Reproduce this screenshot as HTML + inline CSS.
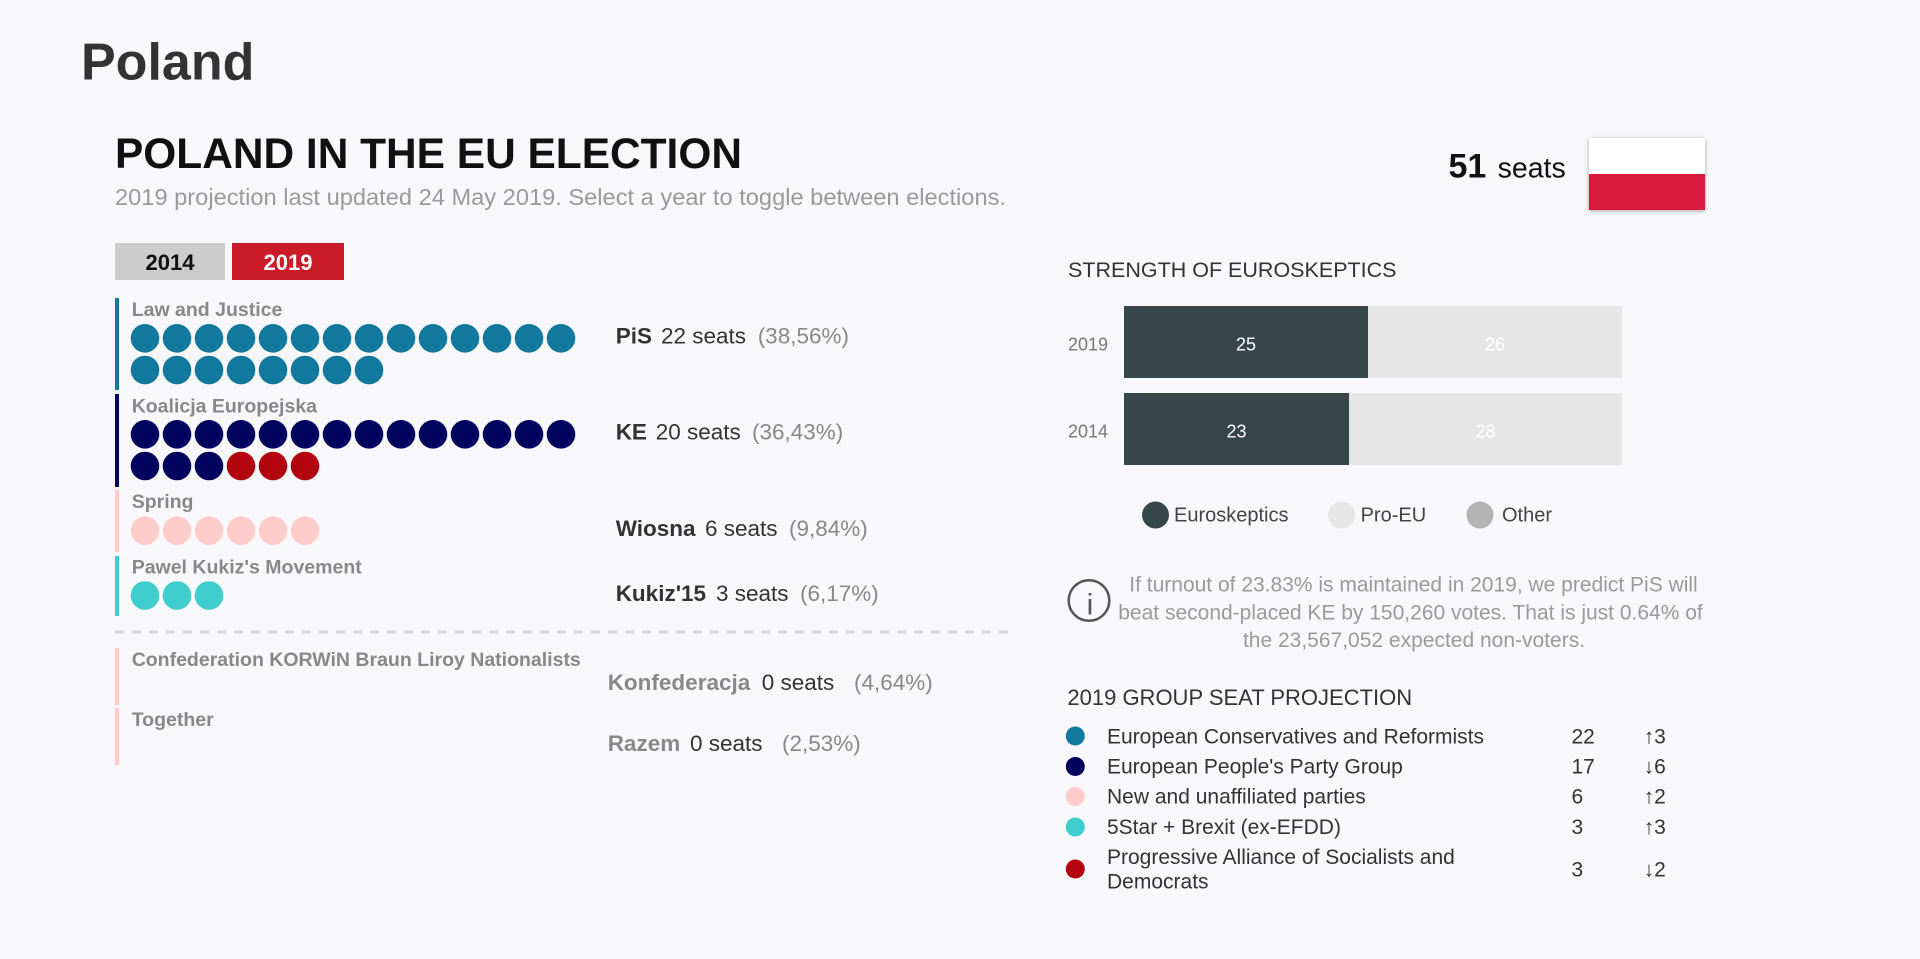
<!DOCTYPE html>
<html>
<head>
<meta charset="utf-8">
<style>
html,body{margin:0;padding:0;background:#f8f8fa;}
svg{display:block;font-family:"Liberation Sans",Arial,sans-serif;}
</style>
</head>
<body>
<svg width="1920" height="959" viewBox="0 0 1920 959" xmlns="http://www.w3.org/2000/svg">
<defs>
<filter id="sh" x="-20%" y="-20%" width="140%" height="150%">
<feDropShadow dx="0" dy="1" stdDeviation="2" flood-color="#000" flood-opacity="0.35"/>
</filter>
</defs>
<rect x="0" y="0" width="1920" height="959" fill="#f8f8fa"/>

<!-- Headings -->
<text x="81" y="79.5" font-size="52" font-weight="bold" fill="#333">Poland</text>
<text x="115" y="168" font-size="42.5" font-weight="bold" fill="#111" textLength="627" lengthAdjust="spacingAndGlyphs">POLAND IN THE EU ELECTION</text>
<text x="115" y="205" font-size="23" fill="#9a9a9a" textLength="891" lengthAdjust="spacingAndGlyphs">2019 projection last updated 24 May 2019. Select a year to toggle between elections.</text>

<!-- Buttons -->
<rect x="115" y="243" width="110" height="37" fill="#cccccc"/>
<text x="170" y="270" font-size="22" font-weight="bold" fill="#111" text-anchor="middle">2014</text>
<rect x="232" y="243" width="112" height="37" fill="#cb1a28"/>
<text x="288" y="270" font-size="22" font-weight="bold" fill="#fff" text-anchor="middle">2019</text>

<!-- Party blocks -->
<g font-size="19.5" font-weight="bold" fill="#888">
<rect x="115" y="298" width="4" height="92" fill="#13789e"/>
<text x="131.7" y="316">Law and Justice</text>
<rect x="115" y="394" width="4" height="93" fill="#02035c"/>
<text x="131.7" y="412.7">Koalicja Europejska</text>
<rect x="115" y="490" width="4" height="62" fill="#ffcccc"/>
<text x="131.7" y="508">Spring</text>
<rect x="115" y="556" width="4" height="60" fill="#3fcdcd"/>
<text x="131.7" y="573.3">Pawel Kukiz's Movement</text>
<rect x="115" y="648" width="4" height="57" fill="#ffcccc"/>
<text x="131.7" y="666">Confederation KORWiN Braun Liroy Nationalists</text>
<rect x="115" y="708" width="4" height="57" fill="#ffcccc"/>
<text x="131.7" y="726">Together</text>
</g>

<!-- Seat circles -->
<g fill="#13789e">
<circle cx="145" cy="338.3" r="14.3"/><circle cx="177" cy="338.3" r="14.3"/><circle cx="209" cy="338.3" r="14.3"/><circle cx="241" cy="338.3" r="14.3"/><circle cx="273" cy="338.3" r="14.3"/><circle cx="305" cy="338.3" r="14.3"/><circle cx="337" cy="338.3" r="14.3"/><circle cx="369" cy="338.3" r="14.3"/><circle cx="401" cy="338.3" r="14.3"/><circle cx="433" cy="338.3" r="14.3"/><circle cx="465" cy="338.3" r="14.3"/><circle cx="497" cy="338.3" r="14.3"/><circle cx="529" cy="338.3" r="14.3"/><circle cx="561" cy="338.3" r="14.3"/>
<circle cx="145" cy="370" r="14.3"/><circle cx="177" cy="370" r="14.3"/><circle cx="209" cy="370" r="14.3"/><circle cx="241" cy="370" r="14.3"/><circle cx="273" cy="370" r="14.3"/><circle cx="305" cy="370" r="14.3"/><circle cx="337" cy="370" r="14.3"/><circle cx="369" cy="370" r="14.3"/>
</g>
<g fill="#02035c">
<circle cx="145" cy="434.3" r="14.3"/><circle cx="177" cy="434.3" r="14.3"/><circle cx="209" cy="434.3" r="14.3"/><circle cx="241" cy="434.3" r="14.3"/><circle cx="273" cy="434.3" r="14.3"/><circle cx="305" cy="434.3" r="14.3"/><circle cx="337" cy="434.3" r="14.3"/><circle cx="369" cy="434.3" r="14.3"/><circle cx="401" cy="434.3" r="14.3"/><circle cx="433" cy="434.3" r="14.3"/><circle cx="465" cy="434.3" r="14.3"/><circle cx="497" cy="434.3" r="14.3"/><circle cx="529" cy="434.3" r="14.3"/><circle cx="561" cy="434.3" r="14.3"/>
<circle cx="145" cy="466" r="14.3"/><circle cx="177" cy="466" r="14.3"/><circle cx="209" cy="466" r="14.3"/>
</g>
<g fill="#b30510">
<circle cx="241" cy="466" r="14.3"/><circle cx="273" cy="466" r="14.3"/><circle cx="305" cy="466" r="14.3"/>
</g>
<g fill="#ffcccc">
<circle cx="145" cy="530.7" r="14.3"/><circle cx="177" cy="530.7" r="14.3"/><circle cx="209" cy="530.7" r="14.3"/><circle cx="241" cy="530.7" r="14.3"/><circle cx="273" cy="530.7" r="14.3"/><circle cx="305" cy="530.7" r="14.3"/>
</g>
<g fill="#3fcdcd">
<circle cx="145" cy="595.5" r="14.3"/><circle cx="177" cy="595.5" r="14.3"/><circle cx="209" cy="595.5" r="14.3"/>
</g>

<!-- dashed separator -->
<line x1="115" y1="632" x2="1011" y2="632" stroke="#d9d9d9" stroke-width="3" stroke-dasharray="9 8"/>

<!-- Result texts -->
<g font-size="22.5">
<text x="615.7" y="343.3" font-weight="bold" fill="#333">PiS</text>
<text x="661" y="343.3" fill="#333">22 seats</text>
<text x="757.7" y="343.3" fill="#888">(38,56%)</text>

<text x="615.7" y="439.3" font-weight="bold" fill="#333">KE</text>
<text x="655.7" y="439.3" fill="#333">20 seats</text>
<text x="752" y="439.3" fill="#888">(36,43%)</text>

<text x="615.7" y="536" font-weight="bold" fill="#333">Wiosna</text>
<text x="705" y="536" fill="#333">6 seats</text>
<text x="789" y="536" fill="#888">(9,84%)</text>

<text x="615.7" y="601" font-weight="bold" fill="#333">Kukiz'15</text>
<text x="716" y="601" fill="#333">3 seats</text>
<text x="800" y="601" fill="#888">(6,17%)</text>

<text x="607.7" y="690" font-weight="bold" fill="#888">Konfederacja</text>
<text x="761.7" y="690" fill="#333">0 seats</text>
<text x="854" y="690" fill="#888">(4,64%)</text>

<text x="607.7" y="751" font-weight="bold" fill="#888">Razem</text>
<text x="690" y="751" fill="#333">0 seats</text>
<text x="782" y="751" fill="#888">(2,53%)</text>
</g>

<!-- 51 seats + flag -->
<text x="1448.5" y="177.5" font-size="34" font-weight="bold" fill="#111">51</text>
<text x="1497.6" y="177.5" font-size="28.5" fill="#111">seats</text>
<g filter="url(#sh)">
<rect x="1589" y="138" width="116" height="72" fill="#ffffff"/>
</g>
<rect x="1589" y="174" width="116" height="36" fill="#d91b3e"/>

<!-- Strength of euroskeptics -->
<text x="1068" y="277" font-size="21.5" fill="#333">STRENGTH OF EUROSKEPTICS</text>
<rect x="1124" y="306" width="498" height="72" fill="#e6e6e6"/>
<rect x="1124" y="306" width="244" height="72" fill="#37464a"/>
<rect x="1124" y="393" width="498" height="72" fill="#e6e6e6"/>
<rect x="1124" y="393" width="225" height="72" fill="#37464a"/>
<g font-size="18">
<text x="1068" y="350.7" fill="#777">2019</text>
<text x="1068" y="437.3" fill="#777">2014</text>
<text x="1246" y="350.7" fill="#fff" text-anchor="middle">25</text>
<text x="1495" y="350.7" fill="#fff" text-anchor="middle">26</text>
<text x="1236.5" y="437.3" fill="#fff" text-anchor="middle">23</text>
<text x="1485.5" y="437.3" fill="#fff" text-anchor="middle">28</text>
</g>

<!-- legend -->
<circle cx="1155.5" cy="515" r="13.5" fill="#37464a"/>
<text x="1174" y="521.7" font-size="20" fill="#444">Euroskeptics</text>
<circle cx="1341.5" cy="515" r="13.5" fill="#e6e6e6"/>
<text x="1360.6" y="521.7" font-size="20" fill="#444">Pro-EU</text>
<circle cx="1480" cy="515" r="13.5" fill="#b3b3b3"/>
<text x="1502" y="521.7" font-size="20" fill="#444">Other</text>

<!-- info -->
<circle cx="1089" cy="600.5" r="20.3" fill="none" stroke="#555" stroke-width="2.5"/>
<text x="1090" y="614.5" font-size="30" fill="#555" text-anchor="middle">i</text>
<g font-size="21" fill="#9a9a9a" text-anchor="middle">
<text x="1413.5" y="591.3">If turnout of 23.83% is maintained in 2019, we predict PiS will</text>
<text x="1410.5" y="619.7">beat second-placed KE by 150,260 votes. That is just 0.64% of</text>
<text x="1414" y="647">the 23,567,052 expected non-voters.</text>
</g>

<!-- group seat projection -->
<text x="1067.4" y="705" font-size="22" fill="#333">2019 GROUP SEAT PROJECTION</text>
<circle cx="1075.3" cy="736" r="9.5" fill="#13789e"/>
<circle cx="1075.3" cy="766.5" r="9.5" fill="#02035c"/>
<circle cx="1075.3" cy="796.5" r="9.5" fill="#ffcccc"/>
<circle cx="1075.3" cy="827" r="9.5" fill="#3fcdcd"/>
<circle cx="1075.3" cy="869" r="9.5" fill="#b30510"/>
<g font-size="21" fill="#333">
<text x="1107" y="743.3">European Conservatives and Reformists</text>
<text x="1107" y="773.3">European People's Party Group</text>
<text x="1107" y="803.3">New and unaffiliated parties</text>
<text x="1107" y="834">5Star + Brexit (ex-EFDD)</text>
<text x="1107" y="864">Progressive Alliance of Socialists and</text>
<text x="1107" y="888.3">Democrats</text>
<text x="1571.5" y="743.3">22</text>
<text x="1571.5" y="773.3">17</text>
<text x="1571.5" y="803.3">6</text>
<text x="1571.5" y="834">3</text>
<text x="1571.5" y="876.7">3</text>
<text x="1643.6" y="743.3">↑3</text>
<text x="1643.6" y="773.3">↓6</text>
<text x="1643.6" y="803.3">↑2</text>
<text x="1643.6" y="834">↑3</text>
<text x="1643.6" y="876.7">↓2</text>
</g>
</svg>
</body>
</html>
